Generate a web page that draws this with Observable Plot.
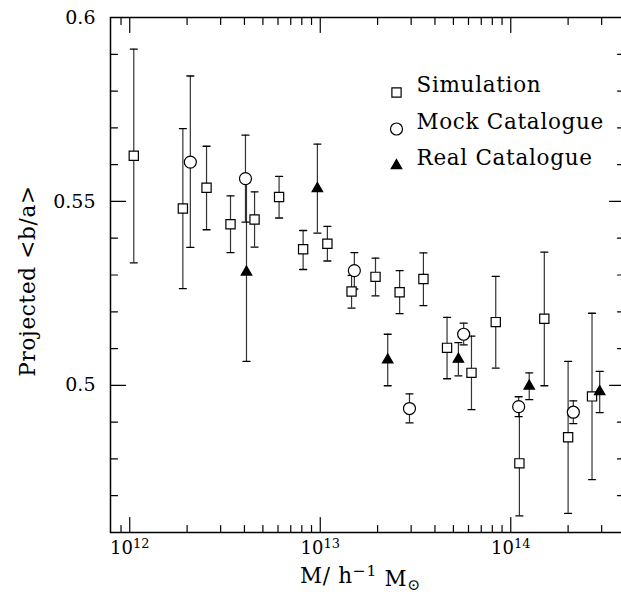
<!DOCTYPE html>
<html>
<head>
<meta charset="utf-8">
<script src="https://cdn.jsdelivr.net/npm/d3@7"></script>
<script src="https://cdn.jsdelivr.net/npm/@observablehq/plot@0.6"></script>
<style>
  html, body { margin: 0; padding: 0; background: #fff; overflow: hidden; }
  #chart { position: relative; width: 621px; height: 596px; overflow: hidden; }
  #chart svg { max-width: none !important; }
  .wide text { letter-spacing: 0.7px; }
</style>
</head>
<body>
<div id="chart"></div>
<script>
// Halo mass (M / h^-1 Msun) and projected mean axis ratio <b/a> with error bounds

// Simulation
const simMass = [1.05e12, 1.90e12, 2.53e12, 3.38e12, 4.52e12, 6.08e12, 8.13e12, 1.09e13, 1.46e13, 1.95e13,
                 2.61e13, 3.48e13, 4.63e13, 6.22e13, 8.34e13, 1.11e14, 1.50e14, 2.00e14, 2.67e14];
const simMean = [0.5624, 0.5481, 0.5537, 0.5438, 0.5451, 0.5512, 0.5370, 0.5385, 0.5255, 0.5295,
                 0.5253, 0.5289, 0.5102, 0.5034, 0.5172, 0.4788, 0.5181, 0.4859, 0.4970];
const simLow  = [0.5333, 0.5263, 0.5423, 0.5361, 0.5376, 0.5455, 0.5315, 0.5338, 0.5210, 0.5243,
                 0.5195, 0.5217, 0.5018, 0.4934, 0.5047, 0.4645, 0.4999, 0.4652, 0.4744];
const simHigh = [0.5914, 0.5698, 0.5650, 0.5515, 0.5526, 0.5568, 0.5421, 0.5432, 0.5299, 0.5346,
                 0.5312, 0.5360, 0.5185, 0.5134, 0.5296, 0.4931, 0.5362, 0.5065, 0.5196];

// Mock catalogue
const mockMass = [2.08e12, 4.05e12, 1.51e13, 2.94e13, 5.66e13, 1.10e14, 2.13e14];
const mockMean = [0.5607, 0.5562, 0.5312, 0.4937, 0.5139, 0.4942, 0.4927];
const mockLow  = [0.5375, 0.5444, 0.5262, 0.4898, 0.5110, 0.4915, 0.4896];
const mockHigh = [0.5841, 0.5680, 0.5361, 0.4977, 0.5169, 0.4969, 0.4958];

// Real catalogue
const realMass = [4.10e12, 9.66e12, 2.26e13, 5.31e13, 1.25e14, 2.93e14];
const realMean = [0.5308, 0.5535, 0.5069, 0.5071, 0.4998, 0.4983];
const realLow  = [0.5065, 0.5414, 0.4999, 0.5026, 0.4961, 0.4926];
const realHigh = [0.5551, 0.5656, 0.5139, 0.5116, 0.5034, 0.5038];

const seriesNames = ["Simulation", "Mock Catalogue", "Real Catalogue"];

// Axis ticks
const xMajor = [1e12, 1e13, 1e14];
const xMinor = [9e11, 2e12, 3e12, 4e12, 5e12, 6e12, 7e12, 8e12, 9e12,
                2e13, 3e13, 4e13, 5e13, 6e13, 7e13, 8e13, 9e13, 2e14, 3e14];
const yMajor = [0.5, 0.55, 0.6];
const yMinor = [0.47, 0.48, 0.49, 0.51, 0.52, 0.53, 0.54, 0.56, 0.57, 0.58, 0.59];

const xTitle = "M/ h⁻¹ M⊙";
const yTitle = "Projected <b/a>";

const rows = (name, m, v, lo, hi) => m.map((d, i) => ({series: name, mass: d, mean: v[i], low: lo[i], high: hi[i]}));
const data = [
  ...rows("Simulation", simMass, simMean, simLow, simHigh),
  ...rows("Mock Catalogue", mockMass, mockMean, mockLow, mockHigh),
  ...rows("Real Catalogue", realMass, realMean, realLow, realHigh)
];

const FONT = "'DejaVu Serif', 'Liberation Serif', serif";
const powerLabel = d => "10^" + Math.round(Math.log10(d));

// straight line shape for tick marks and caps
const line = {draw(context, l) { context.moveTo(0, 0); context.lineTo(0, -l); }};

const style = {
  "Simulation":     {symbol: "square",   r: 5.2, fill: "white", stroke: "black"},
  "Mock Catalogue": {symbol: "circle",   r: 6.0, fill: "white", stroke: "black"},
  "Real Catalogue": {symbol: "triangle", r: 3.9, fill: "black", stroke: "black"}
};

const tickMarks = (values, length) => [
  Plot.vector(values, {x: d => d, frameAnchor: "bottom", rotate: 0, anchor: "start", length, shape: line, stroke: "black", strokeWidth: 1.2}),
  Plot.vector(values, {x: d => d, frameAnchor: "top", rotate: 180, anchor: "start", length, shape: line, stroke: "black", strokeWidth: 1.2})
];
const tickMarksY = (values, length) => [
  Plot.vector(values, {y: d => d, frameAnchor: "left", rotate: 90, anchor: "start", length, shape: line, stroke: "black", strokeWidth: 1.2}),
  Plot.vector(values, {y: d => d, frameAnchor: "right", rotate: -90, anchor: "start", length, shape: line, stroke: "black", strokeWidth: 1.2})
];

const legend = seriesNames.flatMap((name, i) => [
  Plot.dot([name], {frameAnchor: "top-left", dx: 286, dy: 75 + 36.5 * i, ...style[name], strokeWidth: 1.2}),
  Plot.text([name], {frameAnchor: "top-left", dx: 306, dy: 68 + 36.5 * i, text: d => d, textAnchor: "start",
                     lineAnchor: "middle", fontSize: 21.5, fill: "black", className: "wide"})
]);

const chart = Plot.plot({
  width: 624,
  height: 596,
  marginLeft: 110,
  marginRight: 0,
  marginTop: 17,
  marginBottom: 64,
  style: {fontFamily: FONT, background: "white", maxWidth: "none", color: "black"},
  x: {type: "log", domain: [10 ** 11.899, 10 ** 14.597], axis: null},
  y: {domain: [0.46, 0.6], axis: null},
  marks: [
    Plot.frame({stroke: "black", strokeWidth: 1.5}),
    ...tickMarks(xMajor, 15),
    ...tickMarks(xMinor, 7),
    ...tickMarksY(yMajor, 15),
    ...tickMarksY(yMinor, 7),
    Plot.axisX(xMajor, {anchor: "bottom", tickSize: 0, tickPadding: 9, tickFormat: powerLabel, fontSize: 18, label: null}),
    Plot.axisY(yMajor, {anchor: "left", tickSize: 0, tickPadding: 15, tickFormat: d => String(d), fontSize: 19, label: null}),
    // error bars
    Plot.ruleX(data, {x: "mass", y1: "low", y2: "high", stroke: "#333", strokeWidth: 1.2}),
    Plot.vector(data, {x: "mass", y: "low", rotate: 90, anchor: "middle", length: 7, shape: line, stroke: "black", strokeWidth: 1.3}),
    Plot.vector(data, {x: "mass", y: "high", rotate: 90, anchor: "middle", length: 7, shape: line, stroke: "black", strokeWidth: 1.3}),
    // points
    ...seriesNames.map(name => Plot.dot(data.filter(d => d.series === name),
      {x: "mass", y: "mean", ...style[name], strokeWidth: 1.2})),
    ...legend,
    Plot.text([yTitle], {frameAnchor: "left", dx: -82, dy: 6, rotate: -90, text: d => d, textAnchor: "middle",
                         fontSize: 21.5, lineAnchor: "middle", fill: "black", className: "wide"}),
    Plot.text([xTitle], {frameAnchor: "bottom", dx: -7, dy: 44, text: d => d, textAnchor: "middle",
                         fontSize: 21.5, lineAnchor: "middle", fill: "black", className: "wide"})
  ]
});

// typeset powers of ten on the mass axis
d3.select(chart).selectAll("text").filter(function() { return /^10\^\d+$/.test(this.textContent); }).each(function() {
  const exp = this.textContent.split("^")[1];
  const t = d3.select(this).text(null);
  t.append("tspan").text("10");
  t.append("tspan").attr("dy", "-0.45em").attr("font-size", "0.72em").text(exp);
});

// superscript and subscript in the mass axis title
d3.select(chart).selectAll("text").filter(function() { return this.textContent === xTitle; }).each(function() {
  const t = d3.select(this).text(null);
  t.append("tspan").text("M/ h");
  t.append("tspan").attr("dy", "-0.45em").attr("font-size", "0.72em").text("−1");
  t.append("tspan").attr("dy", "0.45em").text(" M");
  t.append("tspan").attr("dy", "0.28em").attr("font-size", "0.72em").text("⊙");
});

document.getElementById("chart").append(chart);
</script>
</body>
</html>
